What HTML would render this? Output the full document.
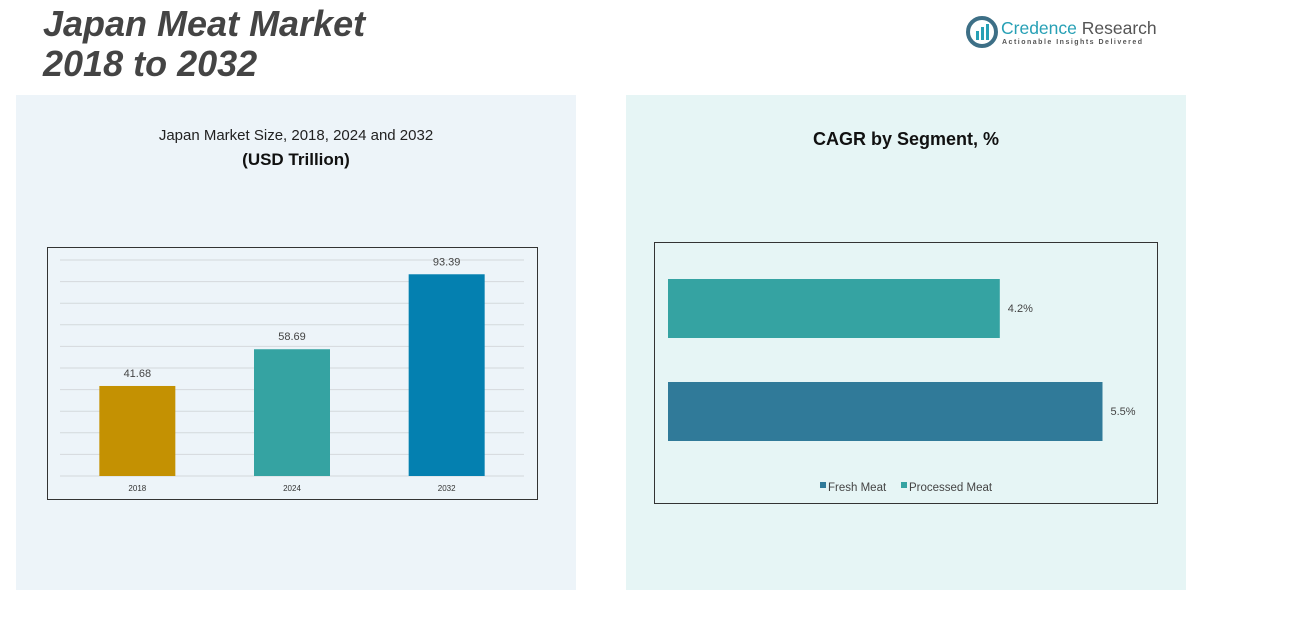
<!DOCTYPE html>
<html><head><meta charset="utf-8"><style>
body{margin:0;width:1302px;height:618px;background:#fff;font-family:"Liberation Sans",sans-serif;position:relative;overflow:hidden}
.t{position:absolute}
</style></head><body>
<div class="t" style="left:43px;top:4px;font-size:36px;font-weight:bold;font-style:italic;color:#444;line-height:40px">Japan Meat Market<br>2018 to 2032</div>
<div class="t" style="left:966px;top:16px;width:200px;height:34px">
<svg width="32" height="32" viewBox="0 0 32 32"><circle cx="16" cy="16" r="14" fill="none" stroke="#3d6f86" stroke-width="4"/><rect x="10" y="15" width="3" height="9" fill="#27a0b5"/><rect x="15" y="11" width="3" height="13" fill="#27a0b5"/><rect x="20" y="8" width="3" height="16" fill="#27a0b5"/></svg>
<div class="t" style="left:35px;top:2px;font-size:17.5px;color:#27a0b5;white-space:nowrap">Credence <span style="color:#555">Research</span></div>
<div class="t" style="left:36px;top:23px;font-size:7px;letter-spacing:1.5px;color:#555;white-space:nowrap;font-weight:bold">Actionable Insights Delivered</div>
</div>
<div class="t" style="left:16px;top:95px;width:560px;height:495px;background:#edf4f9"></div>
<div class="t" style="left:626px;top:95px;width:560px;height:495px;background:#e6f5f5"></div>
<div class="t" style="left:16px;top:127px;width:560px;text-align:center;font-size:15px;color:#222">Japan Market Size, 2018, 2024 and 2032</div>
<div class="t" style="left:16px;top:150px;width:560px;text-align:center;font-size:17px;font-weight:bold;color:#111">(USD Trillion)</div>
<div class="t" style="left:626px;top:129px;width:560px;text-align:center;font-size:18px;font-weight:bold;color:#111">CAGR by Segment, %</div>
<svg class="t" style="left:0;top:0" width="1302" height="618" id="svg">
<rect x="47.5" y="247.5" width="490" height="252" fill="none" stroke="#333"/>
<rect x="654.5" y="242.5" width="503" height="261" fill="none" stroke="#333"/>
<g id="g1"></g><g id="g2"></g>
</svg>
<script>
const years=["2018","2024","2032"];
const sizes=[41.68,58.69,93.39];
const barColors=["#c49102","#35a3a2","#0480b0"];
const segments=["Processed Meat","Fresh Meat"];
const cagr=[4.2,5.5];
const segColors=["#35a3a2","#307a99"];
const NS="http://www.w3.org/2000/svg";
function mk(tag,attrs,parent,text){const e=document.createElementNS(NS,tag);for(const k in attrs)e.setAttribute(k,attrs[k]);if(text!==undefined)e.textContent=text;parent.appendChild(e);return e;}
const g1=document.getElementById('g1');
const x0=60,x1=524,yb=476,yt=260,ymax=100;
const y=v=>yb-(v/ymax)*(yb-yt);
for(let i=0;i<=10;i++){const l=mk('line',{x1:x0,x2:x1,y1:y(i*10),y2:y(i*10),stroke:'#d4d9dc'},g1);

}
const band=(x1-x0)/years.length;
years.forEach((yr,i)=>{const cx=x0+band*(i+0.5);
const r=mk('rect',{x:cx-38,y:y(sizes[i]),width:76,height:yb-y(sizes[i]),fill:barColors[i]},g1);


const t=mk('text',{x:cx,y:y(sizes[i])-9,'text-anchor':'middle','font-size':11,fill:'#444'},g1,sizes[i].toFixed(2));


const a=mk('text',{x:cx,y:491,'text-anchor':'middle','font-size':8,fill:'#333'},g1,yr);

});
const g2=document.getElementById('g2');
const hx0=668,pxPer=79;
const rowsY=[279,382];
segments.forEach((s,i)=>{const w=cagr[i]*pxPer;
const r=mk('rect',{x:hx0,y:rowsY[i],width:w,height:59,fill:segColors[i]},g2);


const t=mk('text',{x:hx0+w+8,y:rowsY[i]+33,'font-size':11,fill:'#444'},g2,cagr[i]+'%');

});
const legend=[["Fresh Meat","#307a99",820],["Processed Meat","#35a3a2",901]];
legend.forEach(([n,c,lx])=>{const q=mk('rect',{x:lx,y:482,width:6,height:6,fill:c},g2);


const t=mk('text',{x:lx+8,y:491,'font-size':11.5,fill:'#444'},g2,n);

});
</script>
</body></html>
